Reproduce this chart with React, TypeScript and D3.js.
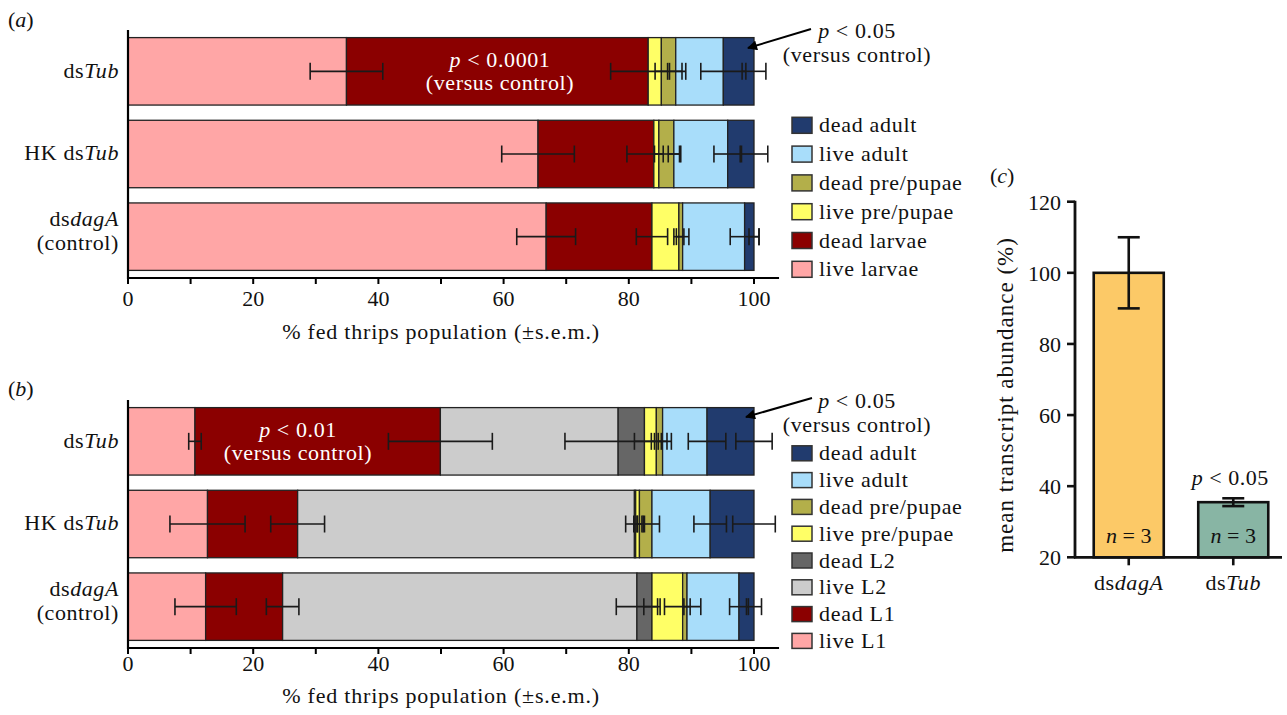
import React from 'react';
import * as d3 from 'd3';

const FONT = '"Liberation Serif", "Times New Roman", Times, serif';

// ---------- Panel (a) ----------
const treatments = ['dsTub', 'HK dsTub', 'dsdagA'];
const stagesA = ['live larvae', 'dead larvae', 'live pre/pupae', 'dead pre/pupae', 'live adult', 'dead adult'];
const colorsA = ['#FFA6A6', '#8B0000', '#FFFF66', '#B3AF4A', '#A8DDFA', '#213B6E'];
const valuesA_dsTub = [34.9, 48.2, 2.1, 2.3, 7.6, 4.9];
const valuesA_HK = [65.5, 18.5, 0.8, 2.4, 8.6, 4.2];
const valuesA_dagA = [66.8, 16.9, 4.3, 0.6, 9.9, 1.5];
const semA_dsTub = [5.8, 6.0, 1.0, 1.0, 3.6, 1.9];
const semA_HK = [5.8, 4.3, 0.7, 0.9, 2.2, 2.2];
const semA_dagA = [4.7, 2.5, 0.8, 1.0, 2.3, 0.8];

// ---------- Panel (b) ----------
const stagesB = ['live L1', 'dead L1', 'live L2', 'dead L2', 'live pre/pupae', 'dead pre/pupae', 'live adult', 'dead adult'];
const colorsB = ['#FFA6A6', '#8B0000', '#CCCCCC', '#666666', '#FFFF66', '#B3AF4A', '#A8DDFA', '#213B6E'];
const valuesB_dsTub = [10.7, 39.2, 28.4, 4.2, 1.9, 1.0, 7.1, 7.5];
const valuesB_HK = [12.7, 14.4, 53.8, 0.2, 0.6, 2.0, 9.3, 7.0];
const valuesB_dagA = [12.4, 12.3, 56.6, 2.4, 4.9, 0.7, 8.3, 2.4];
const semB_dsTub = [1.0, 8.3, 8.5, 1.6, 0.8, 0.7, 3.0, 2.9];
const semB_HK = [6.0, 4.3, 1.4, 0.3, 0.4, 1.2, 2.6, 3.4];
const semB_dagA = [4.9, 2.6, 3.3, 1.3, 2.9, 0.5, 1.5, 1.2];

const xTicks = [0, 10, 20, 30, 40, 50, 60, 70, 80, 90, 100];

// ---------- Panel (c) ----------
const cCategories = ['dsdagA', 'dsTub'];
const cValues = [100, 35.5];
const cSems = [10, 1.1];
const cColors = ['#FCC967', '#88B5A4'];
const cTicks = [20, 40, 60, 80, 100, 120];

const ital = (s: string) => <tspan fontStyle="italic">{s}</tspan>;

function TreatmentLabel({ name, x, y }: { name: string; x: number; y: number }) {
  const common = { fontFamily: FONT, fontSize: 22, letterSpacing: 0.6, textAnchor: 'end' as const, fill: '#111' };
  if (name === 'dsTub') return <text x={x} y={y + 7} {...common}>ds{ital('Tub')}</text>;
  if (name === 'HK dsTub') return <text x={x} y={y + 6} {...common}>HK ds{ital('Tub')}</text>;
  return (
    <g>
      <text x={x} y={y - 11} {...common}>ds{ital('dagA')}</text>
      <text x={x} y={y + 13} {...common}>(control)</text>
    </g>
  );
}

function StackPanel(props: {
  top: number;
  stages: string[];
  colors: string[];
  values: number[][];
  sems: number[][];
  legendTop: number;
  legendStep: number;
  swatchH: number;
  label: string;
  labelY: number;
  pText: string;
  pX: number;
  pY: number;
  arrowFrom: [number, number];
  arrowTo: [number, number];
  annY: number;
  tickDy: number;
  titleDy: number;
}) {
  const { top, stages, colors, values, sems } = props;
  const x = d3.scaleLinear().domain([0, 100]).range([128, 754]);
  const y = d3.scaleBand<string>().domain(treatments).range([top, top + 248]).paddingInner(0.184).paddingOuter(0.092);
  const rows = treatments.map((t, j) => {
    const o: any = { t };
    stages.forEach((s, i) => (o[s] = values[j][i]));
    return o;
  });
  const stack = d3.stack<any>().keys(stages)(rows);
  const axisY = top + 248;
  const bw = y.bandwidth();
  const capH = 17;
  const col = d3.scaleOrdinal<string, string>().domain(stages).range(colors);
  const legendOrder = [...stages].reverse();
  const textStyle = { fontFamily: FONT, fill: '#111' };
  return (
    <g>
      <text x={8} y={props.labelY} fontSize={22} {...textStyle}>({ital(props.label)})</text>
      {stack.map((layer) => (
        <g key={layer.key}>
          {layer.map((d, j) => (
            <rect
              key={j}
              x={x(d[0])}
              y={y(treatments[j])!}
              width={Math.max(0, x(d[1]) - x(d[0]))}
              height={bw}
              fill={col(layer.key)}
              stroke="#222"
              strokeWidth={1.3}
            />
          ))}
        </g>
      ))}
      {stack.map((layer, i) => (
        <g key={'e' + layer.key}>
          {layer.map((d, j) => {
            const s = sems[j][i];
            const cy = y(treatments[j])! + bw / 2;
            const x1 = x(d[1] - s);
            const x2 = x(d[1] + s);
            return (
              <g key={j} stroke="#1a1a1a" strokeWidth={1.6}>
                <line x1={x1} x2={x2} y1={cy} y2={cy} />
                <line x1={x1} x2={x1} y1={cy - capH / 2} y2={cy + capH / 2} />
                <line x1={x2} x2={x2} y1={cy - capH / 2} y2={cy + capH / 2} />
              </g>
            );
          })}
        </g>
      ))}
      <line x1={128} x2={128} y1={top} y2={axisY + 1} stroke="#000" strokeWidth={2.2} />
      <line x1={127} x2={x(104)} y1={axisY} y2={axisY} stroke="#000" strokeWidth={2.2} />
      {xTicks.map((t) => (
        <g key={t}>
          <line x1={x(t)} x2={x(t)} y1={axisY} y2={axisY + 6} stroke="#000" strokeWidth={2} />
          {t % 20 === 0 && (
            <text x={x(t)} y={axisY + props.tickDy} textAnchor="middle" fontSize={22} {...textStyle}>{t}</text>
          )}
        </g>
      ))}
      <text x={x(50)} y={axisY + props.titleDy} textAnchor="middle" fontSize={22} letterSpacing={0.8} {...textStyle}>
        % fed thrips population (±s.e.m.)
      </text>
      {treatments.map((t) => (
        <TreatmentLabel key={t} name={t} x={119} y={y(t)! + bw / 2} />
      ))}
      {legendOrder.map((s, i) => {
        const cy = props.legendTop + i * props.legendStep;
        return (
          <g key={s}>
            <rect x={792} y={cy - props.swatchH / 2} width={20} height={props.swatchH} fill={col(s)} stroke="#333" strokeWidth={1.5} />
            <text x={819} y={cy + 7} fontSize={22} letterSpacing={0.7} {...textStyle}>{s}</text>
          </g>
        );
      })}
      <text x={props.pX} y={props.pY} textAnchor="middle" fontSize={22} letterSpacing={0.6} fontFamily={FONT} fill="#fff">
        {ital('p')} {'< ' + props.pText}
      </text>
      <text x={props.pX} y={props.pY + 23} textAnchor="middle" fontSize={22} letterSpacing={0.6} fontFamily={FONT} fill="#fff">
        (versus control)
      </text>
      <line x1={props.arrowFrom[0]} y1={props.arrowFrom[1]} x2={props.arrowTo[0]} y2={props.arrowTo[1]} stroke="#000" strokeWidth={2} markerEnd="url(#arrowhead)" />
      <text x={857} y={props.annY} textAnchor="middle" fontSize={22} letterSpacing={0.6} {...textStyle}>
        {ital('p')} {'< 0.05'}
      </text>
      <text x={857} y={props.annY + 24} textAnchor="middle" fontSize={22} letterSpacing={0.6} {...textStyle}>
        (versus control)
      </text>
    </g>
  );
}

function PanelC() {
  const y = d3.scaleLinear().domain([20, 120]).range([557.3, 201.7]);
  const x = d3.scaleBand<string>().domain(cCategories).range([1077, 1285]).paddingInner(0.33).paddingOuter(0.16);
  const bw = x.bandwidth();
  const axisX = 1075;
  const textStyle = { fontFamily: FONT, fill: '#111' };
  return (
    <g>
      <text x={990} y={183} fontSize={22} {...textStyle}>({ital('c')})</text>
      {cCategories.map((c, i) => {
        const x0 = x(c)!;
        const cx = x0 + bw / 2;
        const v = cValues[i];
        const s = cSems[i];
        return (
          <g key={c}>
            <rect x={x0} y={y(v)} width={bw} height={y(20) - y(v)} fill={cColors[i]} stroke="#111" strokeWidth={2.6} />
            <g stroke="#111" strokeWidth={2.6}>
              <line x1={cx} x2={cx} y1={y(v - s)} y2={y(v + s)} />
              <line x1={cx - 11} x2={cx + 11} y1={y(v - s)} y2={y(v - s)} />
              <line x1={cx - 11} x2={cx + 11} y1={y(v + s)} y2={y(v + s)} />
            </g>
            <line x1={cx} x2={cx} y1={y(20)} y2={y(20) + 8} stroke="#111" strokeWidth={2.6} />
            <text x={cx} y={590} textAnchor="middle" fontSize={22} letterSpacing={0.6} {...textStyle}>
              ds{ital(c === 'dsTub' ? 'Tub' : 'dagA')}
            </text>
            <text x={cx} y={543} textAnchor="middle" fontSize={22} {...textStyle}>
              {ital('n')} = 3
            </text>
          </g>
        );
      })}
      <text x={x('dsTub')! + bw / 2 - 3} y={485} textAnchor="middle" fontSize={22} letterSpacing={0.5} {...textStyle}>
        {ital('p')} {'< 0.05'}
      </text>
      <line x1={axisX} x2={axisX} y1={y(120) - 1} y2={y(20) + 1} stroke="#111" strokeWidth={2.8} />
      <line x1={axisX - 1} x2={1282} y1={y(20)} y2={y(20)} stroke="#111" strokeWidth={2.8} />
      {cTicks.map((t) => (
        <g key={t}>
          <line x1={axisX - 8} x2={axisX} y1={y(t)} y2={y(t)} stroke="#111" strokeWidth={2.6} />
          <text x={1061} y={y(t) + 8} textAnchor="end" fontSize={22} {...textStyle}>{t}</text>
        </g>
      ))}
      <text
        transform={`translate(1013, 395) rotate(-90)`}
        textAnchor="middle"
        fontSize={23}
        letterSpacing={1}
        {...textStyle}
      >
        mean transcript abundance (%)
      </text>
    </g>
  );
}

export default function App() {
  return (
    <svg width={1287} height={715} style={{ position: 'absolute', left: 0, top: 0, background: '#fff' }}>
      <defs>
        <marker id="arrowhead" viewBox="0 0 10 10" refX="9" refY="5" markerWidth="6" markerHeight="5" orient="auto" markerUnits="strokeWidth">
          <path d="M0,0 L10,5 L0,10 z" fill="#000" />
        </marker>
      </defs>
      <rect x={0} y={0} width={1287} height={715} fill="#fff" />
      <StackPanel
        top={30}
        stages={stagesA}
        colors={colorsA}
        values={[valuesA_dsTub, valuesA_HK, valuesA_dagA]}
        sems={[semA_dsTub, semA_HK, semA_dagA]}
        legendTop={125.3}
        legendStep={28.8}
        swatchH={16}
        label="a"
        labelY={27}
        pText="0.0001"
        pX={500}
        pY={67}
        arrowFrom={[811, 29]}
        arrowTo={[748, 48]}
        annY={38}
        tickDy={28}
        titleDy={61}
      />
      <StackPanel
        top={400}
        stages={stagesB}
        colors={colorsB}
        values={[valuesB_dsTub, valuesB_HK, valuesB_dagA]}
        sems={[semB_dsTub, semB_HK, semB_dagA]}
        legendTop={453.3}
        legendStep={26.8}
        swatchH={15}
        label="b"
        labelY={396}
        pText="0.01"
        pX={298}
        pY={437}
        arrowFrom={[812, 398]}
        arrowTo={[746, 417]}
        annY={408}
        tickDy={23}
        titleDy={55}
      />
      <PanelC />
    </svg>
  );
}
